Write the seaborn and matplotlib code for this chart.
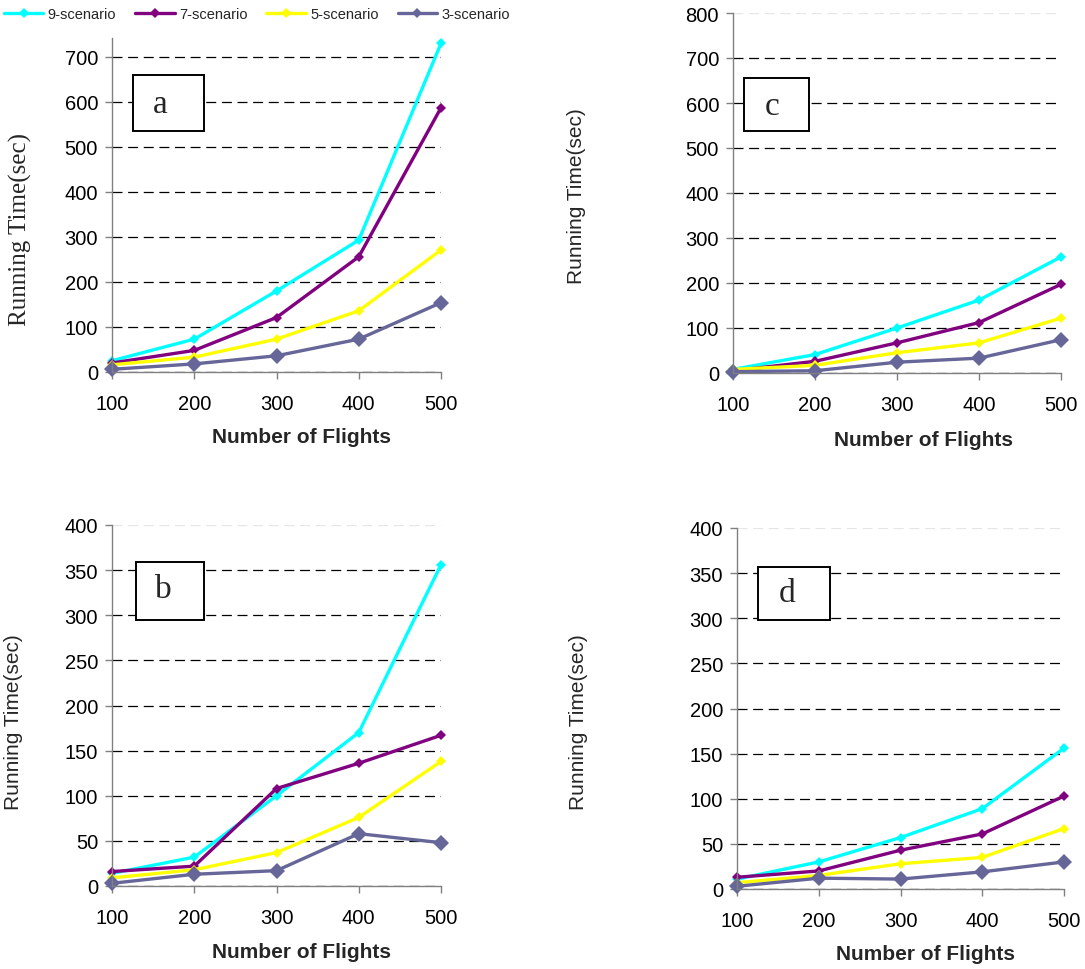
import matplotlib
matplotlib.use('Agg')
import matplotlib.pyplot as plt
from matplotlib.patches import Rectangle
from matplotlib.lines import Line2D
import seaborn as sns

# ---------------- data ----------------
flights = [100, 200, 300, 400, 500]
series_names = ['9-scenario', '7-scenario', '5-scenario', '3-scenario']

a_9 = [25, 73, 180, 293, 730]
a_7 = [20, 48, 121, 256, 587]
a_5 = [16, 33, 73, 136, 271]
a_3 = [6, 18, 36, 73, 154]

c_9 = [8, 41, 100, 162, 258]
c_7 = [5, 26, 67, 112, 197]
c_5 = [8, 17, 45, 67, 122]
c_3 = [3, 5, 24, 33, 74]

b_9 = [14, 32, 100, 170, 356]
b_7 = [16, 22, 108, 136, 167]
b_5 = [9, 18, 37, 76, 138]
b_3 = [3, 13, 17, 58, 48]

d_9 = [11, 30, 57, 89, 156]
d_7 = [13, 20, 43, 61, 103]
d_5 = [7, 15, 28, 35, 67]
d_3 = [3, 12, 11, 19, 30]

yticks_a = [0, 100, 200, 300, 400, 500, 600, 700]
yticks_c = [0, 100, 200, 300, 400, 500, 600, 700, 800]
yticks_bd = [0, 50, 100, 150, 200, 250, 300, 350, 400]

colors = ['#00FFFF', '#800080', '#FFFF00', '#666699']
msizes = [4.8, 4.8, 4.8, 8.5]

# ---------------- style ----------------
sns.set_style('ticks')
plt.rcParams['font.family'] = ['Liberation Sans', 'DejaVu Sans']

W, H = 1085, 970
fig = plt.figure(figsize=(W / 100, H / 100), dpi=100)


def fx(px):
    return px / W


def fy(py):
    return 1 - py / H


panels = [
    ('a', [a_9, a_7, a_5, a_3], yticks_a, 742, (112, 39, 441, 373), (20, 230), True, (302, 438),
     (133, 76, 204, 132), (160, 105)),
    ('c', [c_9, c_7, c_5, c_3], yticks_c, 800, (733, 14, 1061, 374), (577, 196), False, (923, 441),
     (744, 79, 809, 132), (772, 107)),
    ('b', [b_9, b_7, b_5, b_3], yticks_bd, 400, (112, 526, 441, 887), (14, 722), False, (302, 953),
     (136, 563, 204, 621), (163, 590)),
    ('d', [d_9, d_7, d_5, d_3], yticks_bd, 400, (737, 529, 1064, 890), (578, 722), False, (925, 955),
     (758, 568, 830, 621), (787, 594)),
]

for letter, data, yticks, ytop, (l, t, r, b), ylpos, serif, xlpos, box, lpos in panels:
    ax = fig.add_axes([fx(l), fy(b), (r - l) / W, (b - t) / H])
    for name, vals, col, ms in zip(series_names, data, colors, msizes):
        sns.lineplot(x=flights, y=vals, ax=ax, color=col, marker='D', markersize=ms,
                     markeredgewidth=0, lw=2.4, clip_on=False, legend=False)
    ax.set_xlim(100, 500)
    ax.set_ylim(0, ytop)
    ax.set_xticks(flights)
    ax.set_yticks(yticks)
    ax.set_axisbelow(True)
    ax.grid(axis='y', color='black', ls=(0, (8, 4.5)), lw=0.9)
    ax.grid(axis='x', visible=False)
    glines = ax.get_ygridlines()
    if letter != 'a':
        glines[-1].set_color('#e6e6e6')
    for s in ['top', 'right']:
        ax.spines[s].set_visible(False)
    for s in ['left', 'bottom']:
        ax.spines[s].set_color('#808080')
        ax.spines[s].set_linewidth(1.0)
    ax.tick_params(axis='both', direction='out', length=5, width=1, color='#808080',
                   labelsize=14.5, labelcolor='black')
    ax.tick_params(axis='x', pad=11)
    ax.tick_params(axis='y', pad=5)

    ax.set_xlabel('Number of Flights', fontsize=15, fontweight='bold')
    ax.xaxis.set_label_coords(fx(xlpos[0]), fy(xlpos[1]), transform=fig.transFigure)
    ax.xaxis.label.set_va('center')
    if serif:
        ax.set_ylabel('Running Time(sec)', fontsize=18, family=['Liberation Serif', 'DejaVu Serif'])
    else:
        ax.set_ylabel('Running Time(sec)', fontsize=15)
    ax.yaxis.set_label_coords(fx(ylpos[0]), fy(ylpos[1]), transform=fig.transFigure)
    ax.yaxis.label.set_va('center')

    x0, y0, x1, y1 = box
    fig.add_artist(Rectangle((fx(x0), fy(y1)), (x1 - x0) / W, (y1 - y0) / H,
                             transform=fig.transFigure, facecolor='white',
                             edgecolor='black', lw=1.4, zorder=5))
    fig.text(fx(lpos[0]), fy(lpos[1]), letter, fontsize=24, ha='center', va='center',
             family=['Liberation Serif', 'DejaVu Serif'], zorder=6)

handles = [Line2D([], [], color=c, lw=2.4, marker='D', markersize=4.8, markeredgewidth=0)
           for c in colors]
fig.legend(handles, series_names, loc='center left', bbox_to_anchor=(fx(4), fy(15)),
           ncol=4, frameon=False, fontsize=10.5, handlelength=2.7, handletextpad=0.3,
           columnspacing=1.3, borderpad=0, borderaxespad=0)

fig.savefig('out.png', dpi=100)
